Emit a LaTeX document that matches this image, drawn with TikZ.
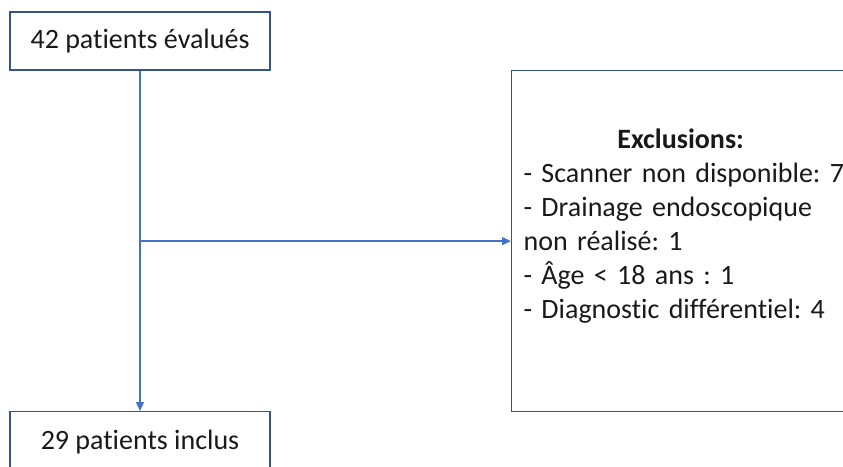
\documentclass[tikz,border=0pt]{standalone}
\usepackage{fontspec}
\setmainfont{Carlito}[Ligatures=NoCommon]
\definecolor{boxblue}{RGB}{52,84,140}
\definecolor{lineblue}{RGB}{68,114,196}
\definecolor{textdark}{RGB}{25,25,25}
\usetikzlibrary{arrows.meta, positioning}
\frenchspacing

\begin{document}
\begin{tikzpicture}[
  x=1pt, y=-1pt,
  box/.style={rectangle, draw=boxblue, line width=1.2pt, text=textdark, font=\fontsize{28}{34}\selectfont, align=center},
  arr/.style={-{Triangle[length=9pt, width=8pt]}, line width=1.3pt, lineblue}
]
  \useasboundingbox (0,0) rectangle (843,466);
  \clip (0,0) rectangle (843,466);

  \node[box, minimum width=260pt, minimum height=58pt] (eval) at (140,41) {42 patients évalués};
  \node[box, anchor=north, minimum width=260pt, minimum height=60pt] (incl) at (140,411) {29 patients inclus};
  \node[box, anchor=north west, text width=330pt, inner xsep=12pt, minimum height=341pt, align=left] (excl) at (511,70)
    {\makebox[314pt]{\textbf{Exclusions:}}\\
     - Scanner non disponible: 7\\
     - Drainage endoscopique\\
     non réalisé: 1\\
     - Âge < 18 ans : 1\\
     - Diagnostic différentiel: 4\\
     \mbox{}};

  \draw[arr] (eval) -- (incl);
  \draw[arr] (eval.south |- excl.west) -- (excl.west);
\end{tikzpicture}
\end{document}
